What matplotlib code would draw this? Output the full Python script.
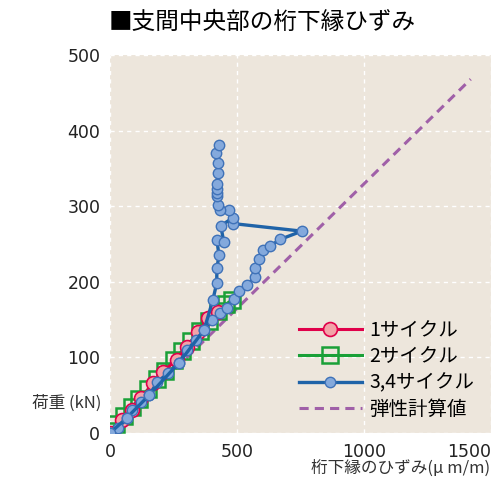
import matplotlib.pyplot as plt

plt.rcParams['font.family'] = ['Noto Sans CJK JP', 'DejaVu Sans']

# cycle 1 (strain, load)
c1_x = [0, 46, 85, 124, 170, 209, 262, 302, 347, 387, 426]
c1_y = [0, 17, 30, 46, 66, 81, 97, 114, 133, 152, 160]

# cycle 2
c2_x = [0, 25, 55, 85, 115, 150, 185, 215, 250, 285, 320, 355, 390, 425, 455, 480]
c2_y = [3, 12, 23, 34, 45, 58, 71, 82, 96, 109, 122, 135, 148, 162, 170, 176]

# cycle 3
c3_x = [0, 32, 66, 88, 124, 154, 186, 227, 272, 303, 339, 370, 400, 433, 459, 488,
        506, 538, 571, 571, 587, 603, 630, 669, 755, 485]
c3_y = [0, 6, 20, 30, 41, 50, 67, 79, 93, 110, 123, 136, 149, 159, 166, 177,
        188, 196, 206, 218, 230, 242, 247, 256, 267, 277]

# cycle 4
c4_x = [0, 66, 154, 272, 370, 405, 420, 421, 429, 421, 448, 436, 485, 469, 433, 426,
        420, 420, 420, 420, 426, 426, 418, 429]
c4_y = [0, 20, 50, 93, 136, 176, 198, 218, 235, 255, 253, 274, 285, 295, 295, 301,
        313, 317, 323, 330, 344, 357, 371, 381]

# elastic calculation
el_x = [0, 1420]
el_y = [0, 468]

xticks = [0, 500, 1000, 1500]
yticks = [0, 100, 200, 300, 400, 500]

fig = plt.figure(figsize=(5.03, 4.80), dpi=100)
ax = fig.add_axes([110 / 503, 47 / 480, 381 / 503, 378 / 480])
ax.set_facecolor('#ede6dc')
for s in ax.spines.values():
    s.set_visible(False)

ax.plot(el_x, el_y, '--', color='#a060a8', lw=2.2, dashes=(3, 2), label='弾性計算値', zorder=2)
ax.plot(c2_x, c2_y, '-', color='#1aa038', lw=2.2, marker='s', ms=11, mfc='none',
        mec='#1aa038', mew=1.8, label='2サイクル', zorder=3)
ax.plot(c1_x, c1_y, '-', color='#e0004a', lw=2.2, marker='o', ms=10, mfc='#f2a3a8',
        mec='#e0004a', mew=1.2, label='1サイクル', zorder=4)
ax.plot(c3_x, c3_y, '-', color='#1f63a8', lw=2.4, marker='o', ms=7.5, mfc='#84a9dc',
        mec='#3f72b8', mew=1.0, label='3,4サイクル', zorder=5)
ax.plot(c4_x, c4_y, '-', color='#1f63a8', lw=2.4, marker='o', ms=7.5, mfc='#84a9dc',
        mec='#3f72b8', mew=1.0, zorder=5)

ax.set_xlim(0, 1500)
ax.set_ylim(0, 500)
ax.set_xticks(xticks)
ax.set_yticks(yticks)
ax.set_xticklabels([str(v) for v in xticks], family='DejaVu Sans', fontsize=12.5)
ax.set_yticklabels([str(v) for v in yticks], family='DejaVu Sans', fontsize=12.5)
ax.get_xticklabels()[-1].set_ha('right')
ax.grid(True, color='white', ls=(0, (3, 3)), lw=1)
ax.tick_params(length=0, colors='#222222')
ax.tick_params(axis='y', pad=7)
ax.tick_params(axis='x', pad=7)
ax.set_axisbelow(True)

h, l = ax.get_legend_handles_labels()
order = [2, 1, 3, 0]
ax.legend([h[i] for i in order], [l[i] for i in order], loc='center left',
          bbox_to_anchor=(0.497, 0.167), frameon=False, fontsize=14,
          handlelength=3.2, labelspacing=0.28, handletextpad=0.4, borderaxespad=0,
          borderpad=0)

fig.text(262 / 503, 1 - 22 / 480, '■支間中央部の桁下縁ひずみ', ha='center', va='center',
         fontsize=17)
fig.text(32 / 503, 1 - 403 / 480, '荷重 (kN)', ha='left', va='center', fontsize=12,
         color='#333333')
fig.text(490 / 503, 1 - 468 / 480, '桁下縁のひずみ(μ m/m)', ha='right', va='center',
         fontsize=12, color='#333333')

fig.savefig('out.png', dpi=100)
